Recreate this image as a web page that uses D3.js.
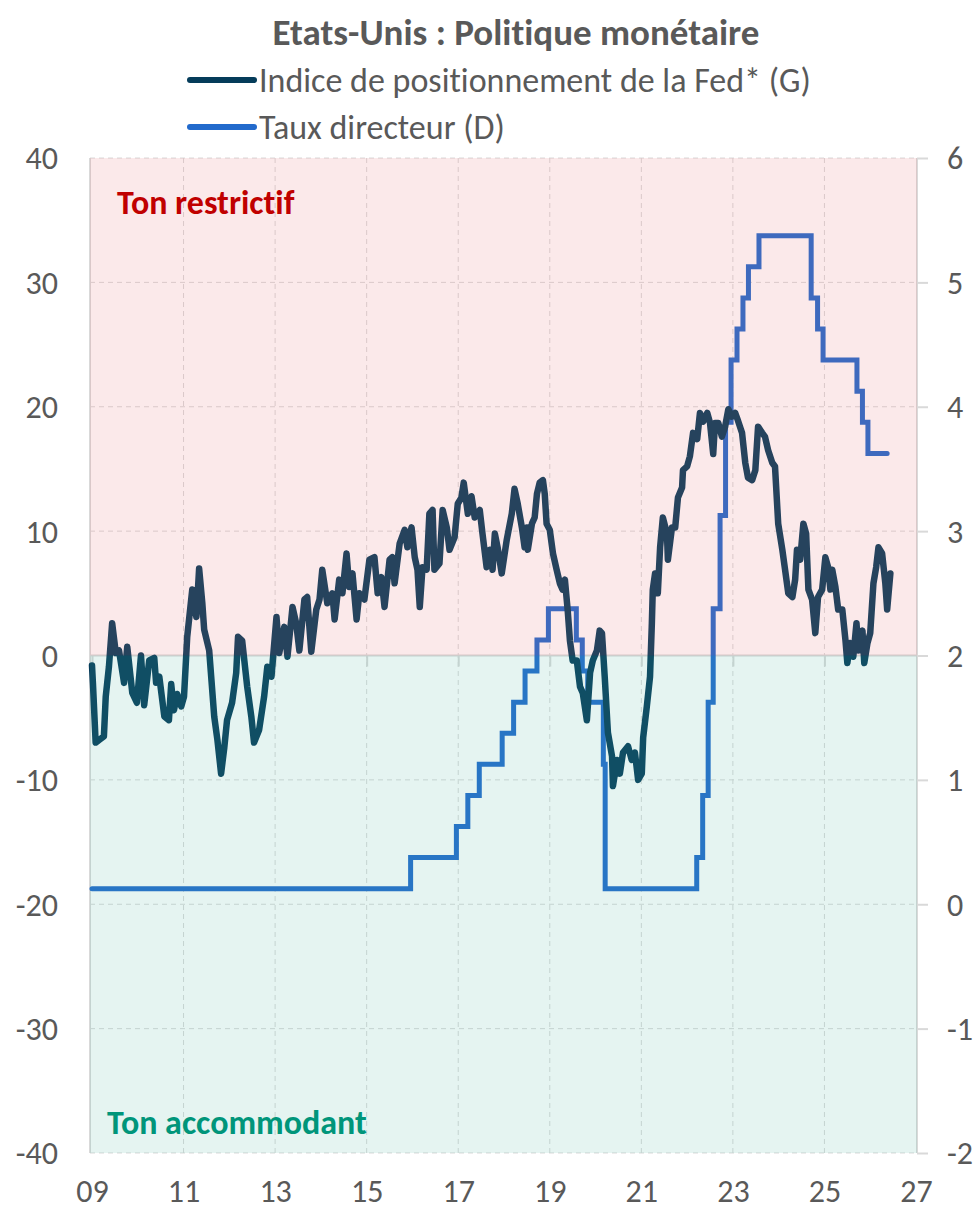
<!DOCTYPE html>
<html>
<head>
<meta charset="utf-8" />
<title>Etats-Unis : Politique monétaire</title>
<style>
  body { margin: 0; background: #fff; }
  #chart svg { display: block; }
  text { font-family: Carlito, "Liberation Sans Narrow", "Open Sans", sans-serif; fill: #595959; font-variant-ligatures: none; }
</style>
</head>
<body>
<div id="chart"></div>
<script src="https://cdnjs.cloudflare.com/ajax/libs/d3/7.8.5/d3.min.js"></script>
<script>
// Fed positioning index (left axis)
var fedYears = [2009.00,2009.02,2009.08,2009.15,2009.26,2009.30,2009.37,2009.44,2009.52,2009.59,2009.70,2009.77,2009.88,2009.98,
  2010.07,2010.14,2010.25,2010.36,2010.40,2010.47,2010.58,2010.68,2010.73,2010.79,2010.86,2010.95,
  2011.01,2011.08,2011.19,2011.28,2011.34,2011.41,2011.45,2011.56,2011.67,2011.74,2011.82,2011.89,2011.95,
  2012.06,2012.15,2012.19,2012.28,2012.39,2012.48,2012.54,2012.65,2012.76,2012.83,2012.92,
  2013.03,2013.09,2013.20,2013.27,2013.38,2013.46,2013.53,2013.64,2013.70,2013.79,2013.90,2013.97,
  2014.03,2014.14,2014.25,2014.30,2014.40,2014.47,2014.56,2014.62,2014.69,2014.78,2014.84,2014.95,
  2015.06,2015.17,2015.24,2015.32,2015.39,2015.50,2015.56,2015.61,2015.72,2015.83,2015.89,2015.98,
  2016.05,2016.11,2016.16,2016.22,2016.31,2016.37,2016.44,2016.48,2016.59,2016.66,2016.75,2016.81,2016.92,2016.99,
  2017.07,2017.12,2017.21,2017.29,2017.36,2017.47,2017.53,2017.62,2017.69,2017.75,2017.80,2017.86,2017.95,
  2018.06,2018.17,2018.23,2018.30,2018.39,2018.45,2018.50,2018.52,2018.61,2018.67,2018.72,2018.78,2018.85,2018.89,2018.93,
  2019.00,2019.07,2019.15,2019.22,2019.28,2019.33,2019.39,2019.44,2019.50,2019.59,2019.66,2019.72,2019.81,2019.88,2019.94,
  2020.03,2020.09,2020.14,2020.20,2020.27,2020.36,2020.38,2020.47,2020.53,2020.60,2020.71,2020.79,2020.86,2020.93,
  2021.01,2021.04,2021.12,2021.19,2021.23,2021.25,2021.30,2021.36,2021.41,2021.47,2021.56,2021.58,2021.67,2021.74,2021.80,2021.89,2021.91,
  2022.00,2022.06,2022.13,2022.22,2022.28,2022.35,2022.44,2022.50,2022.57,2022.61,2022.68,2022.76,2022.83,2022.90,2022.98,
  2023.05,2023.11,2023.20,2023.27,2023.33,2023.42,2023.49,2023.55,2023.64,2023.70,2023.77,2023.86,2023.92,2023.99,
  2024.08,2024.14,2024.21,2024.30,2024.36,2024.40,2024.47,2024.54,2024.60,2024.65,2024.73,2024.80,2024.86,2024.95,
  2025.02,2025.08,2025.13,2025.17,2025.24,2025.30,2025.39,2025.46,2025.50,2025.56,2025.63,2025.70,2025.74,2025.83,2025.87,2025.94,
  2026.00,2026.07,2026.13,2026.18,2026.26,2026.33,2026.37,2026.44];
var fedValues = [-0.8,-2.2,-7.0,-6.8,-6.5,-3.3,-0.9,2.6,0.2,0.4,-2.2,0.7,-3.0,-3.8,
  0.0,-4.0,-0.4,-0.2,-2.2,-1.7,-4.9,-5.2,-2.3,-4.4,-3.1,-4.1,
  -3.3,1.5,5.3,3.1,7.0,4.2,2.1,0.4,-4.9,-6.8,-9.5,-7.4,-5.2,
  -3.8,-1.4,1.5,1.2,-2.5,-4.9,-7.0,-6.0,-3.3,-0.9,-1.7,
  3.1,0.2,2.3,-0.1,3.9,2.6,0.4,4.5,4.7,0.3,3.7,4.5,
  6.9,4.2,5.0,2.9,6.1,5.0,8.2,5.5,6.6,2.9,5.0,4.5,
  7.7,7.9,5.0,6.3,3.9,7.7,7.9,5.8,9.0,10.1,8.7,10.3,
  7.9,6.9,3.9,7.1,6.9,11.4,11.7,6.9,7.4,11.7,10.3,8.5,9.5,12.2,
  12.7,13.9,11.4,12.8,11.1,11.7,9.8,7.1,8.5,6.9,9.8,8.7,6.6,
  9.3,11.4,13.4,12.2,10.3,8.7,10.3,8.5,10.6,11.1,13.0,13.9,14.1,13.0,10.6,
  10.1,8.2,6.9,5.8,5.3,6.1,3.7,1.2,-0.4,-0.4,-2.5,-3.0,-5.2,-1.4,-0.4,
  0.4,2.0,1.8,-1.7,-6.2,-8.1,-10.5,-8.4,-9.5,-7.8,-7.3,-8.4,-7.8,-10.0,
  -9.5,-6.6,-4.1,-1.7,2.6,5.3,6.6,5.0,8.7,11.1,9.8,7.7,10.3,10.3,12.7,13.5,14.9,
  15.2,16.0,17.9,17.4,19.5,18.8,19.5,18.7,16.2,18.7,18.7,17.6,18.4,19.8,19.2,
  19.5,18.9,17.9,15.5,14.3,14.1,14.9,18.4,17.9,17.6,16.5,15.5,15.2,10.6,
  8.5,6.9,5.0,4.7,6.1,8.5,7.7,10.6,9.8,5.3,4.5,1.8,4.7,5.3,
  7.9,7.1,5.3,6.9,5.5,3.7,3.7,1.2,-0.6,1.0,-0.1,2.6,0.4,2.0,-0.6,1.0,
  1.8,5.8,7.1,8.7,8.2,5.8,3.7,6.6];

// Fed funds target, mid-range (right axis), step changes
var rateDates = [2009.00,2015.96,2016.96,2017.21,2017.46,2017.96,2018.21,2018.46,2018.72,2018.97,
  2019.58,2019.71,2019.83,2020.17,2020.21,2022.21,2022.34,2022.46,2022.57,2022.72,2022.84,2022.96,
  2023.09,2023.22,2023.34,2023.57,2024.71,2024.85,2024.97,2025.71,2025.83,2025.95,2026.37];
var rateValues = [0.125,0.375,0.625,0.875,1.125,1.375,1.625,1.875,2.125,2.375,
  2.125,1.875,1.625,1.125,0.125,0.375,0.875,1.625,2.375,3.125,3.875,4.375,
  4.625,4.875,5.125,5.375,4.875,4.625,4.375,4.125,3.875,3.625,3.625];

var xTicks = [2009,2011,2013,2015,2017,2019,2021,2023,2025,2027];
var leftTicks = [-40,-30,-20,-10,0,10,20,30,40];
var rightTicks = [-2,-1,0,1,2,3,4,5,6];

var title = "Etats-Unis : Politique monétaire";
var legendLabels = ["Indice de positionnement de la Fed* (G)", "Taux directeur (D)"];

var width = 977, height = 1216;
var plot = {left: 90, right: 917, top: 158, bottom: 1153};

var svg = d3.select("#chart").append("svg")
  .attr("width", width).attr("height", height);

var x = d3.scaleLinear().domain([2009, 2027]).range([92, 916]);
var yL = d3.scaleLinear().domain([-40, 40]).range([plot.bottom, plot.top]);
var yR = d3.scaleLinear().domain([-2, 6]).range([plot.bottom, plot.top]);

var fedColor = "#053c5a", rateColor = "#226acc", axisGrey = "#d9d9d9";
var numFmt = function(d){ return String(d); }; // plain hyphen for negatives

// grid
var grid = svg.append("g").attr("stroke", axisGrey).attr("stroke-width", 1).attr("stroke-dasharray", "5,4");
grid.selectAll("line.h").data(leftTicks).enter().append("line")
  .attr("x1", plot.left).attr("x2", plot.right)
  .attr("y1", function(d){ return yL(d); }).attr("y2", function(d){ return yL(d); });
grid.selectAll("line.v").data(xTicks.slice(1, -1)).enter().append("line")
  .attr("y1", plot.top).attr("y2", plot.bottom)
  .attr("x1", function(d){ return x(d); }).attr("x2", function(d){ return x(d); });

// left axis line
svg.append("line").attr("x1", plot.left).attr("x2", plot.left)
  .attr("y1", plot.top).attr("y2", plot.bottom)
  .attr("stroke", axisGrey).attr("stroke-width", 2);

// x axis at zero, ticks downward
var xAxis = svg.append("g").attr("transform", "translate(0," + yL(0) + ")")
  .call(d3.axisBottom(x).tickValues(xTicks.slice(0, -1)).tickSize(11).tickFormat(""));
xAxis.select(".domain").attr("stroke", axisGrey).attr("stroke-width", 2).attr("d", "M" + plot.left + ",0H" + plot.right);
xAxis.selectAll(".tick line").attr("stroke", axisGrey).attr("stroke-width", 2);

// right axis
var rAxis = svg.append("g").attr("transform", "translate(" + plot.right + ",0)")
  .call(d3.axisRight(yR).tickValues(rightTicks).tickSize(11).tickPadding(19).tickFormat(numFmt));
rAxis.select(".domain").attr("stroke", axisGrey).attr("stroke-width", 2).attr("d", "M0," + plot.top + "V" + plot.bottom);
rAxis.selectAll(".tick line").attr("stroke", axisGrey).attr("stroke-width", 2);
rAxis.selectAll("text").attr("fill", "#595959").style("font-size", "32px").attr("dy", "0.34em");

// left axis labels
var lAxis = svg.append("g").attr("transform", "translate(" + plot.left + ",0)")
  .call(d3.axisLeft(yL).tickValues(leftTicks).tickSize(0).tickPadding(32).tickFormat(numFmt));
lAxis.select(".domain").remove();
lAxis.selectAll("text").attr("fill", "#595959").style("font-size", "32px").attr("dy", "0.34em");

// bottom labels
var bAxis = svg.append("g").attr("transform", "translate(0," + plot.bottom + ")")
  .call(d3.axisBottom(x).tickValues(xTicks).tickSize(0).tickPadding(26)
    .tickFormat(function(d){ return d3.format("02d")(d % 100); }));
bAxis.select(".domain").remove();
bAxis.selectAll("text").attr("fill", "#595959").style("font-size", "32px").attr("dy", "0.71em");

// series
var rateLine = d3.line().curve(d3.curveStepAfter)
  .x(function(d, i){ return x(rateDates[i]); })
  .y(function(d){ return yR(d); });
svg.append("path").attr("d", rateLine(rateValues))
  .attr("fill", "none").attr("stroke", rateColor).attr("stroke-width", 5)
  .attr("stroke-linejoin", "miter").attr("stroke-linecap", "round");

var fedLine = d3.line()
  .x(function(d, i){ return x(fedYears[i]); })
  .y(function(d){ return yL(d); });
svg.append("path").attr("d", fedLine(fedValues))
  .attr("fill", "none").attr("stroke", fedColor).attr("stroke-width", 6.5)
  .attr("stroke-linejoin", "round").attr("stroke-linecap", "round");

// tinted zones on top
svg.append("rect").attr("x", plot.left).attr("width", plot.right - plot.left)
  .attr("y", yL(40)).attr("height", yL(0) - yL(40))
  .attr("fill", "rgb(228,108,115)").attr("fill-opacity", 0.15);
svg.append("rect").attr("x", plot.left).attr("width", plot.right - plot.left)
  .attr("y", yL(0)).attr("height", yL(-40) - yL(0))
  .attr("fill", "rgb(82,182,162)").attr("fill-opacity", 0.15);

svg.append("text").attr("x", 117).attr("y", 214).text("Ton restrictif")
  .style("font-size", "34px").style("font-weight", "bold").style("fill", "#c00000");
svg.append("text").attr("x", 107).attr("y", 1134).text("Ton accommodant")
  .style("font-size", "34px").style("font-weight", "bold").style("fill", "#00957a");

// title and legend
svg.append("text").attr("x", 516).attr("y", 45).attr("text-anchor", "middle")
  .style("font-size", "37px").style("font-weight", "bold").text(title);

var legend = svg.append("g");
[fedColor, rateColor].forEach(function(c, i){
  var ly = 80 + i * 47;
  legend.append("line").attr("x1", 190).attr("x2", 254).attr("y1", ly).attr("y2", ly)
    .attr("stroke", c).attr("stroke-width", 6).attr("stroke-linecap", "round");
  legend.append("text").attr("x", 259).attr("y", ly + 12).style("font-size", "34px").text(legendLabels[i]);
});
</script>
</body>
</html>
